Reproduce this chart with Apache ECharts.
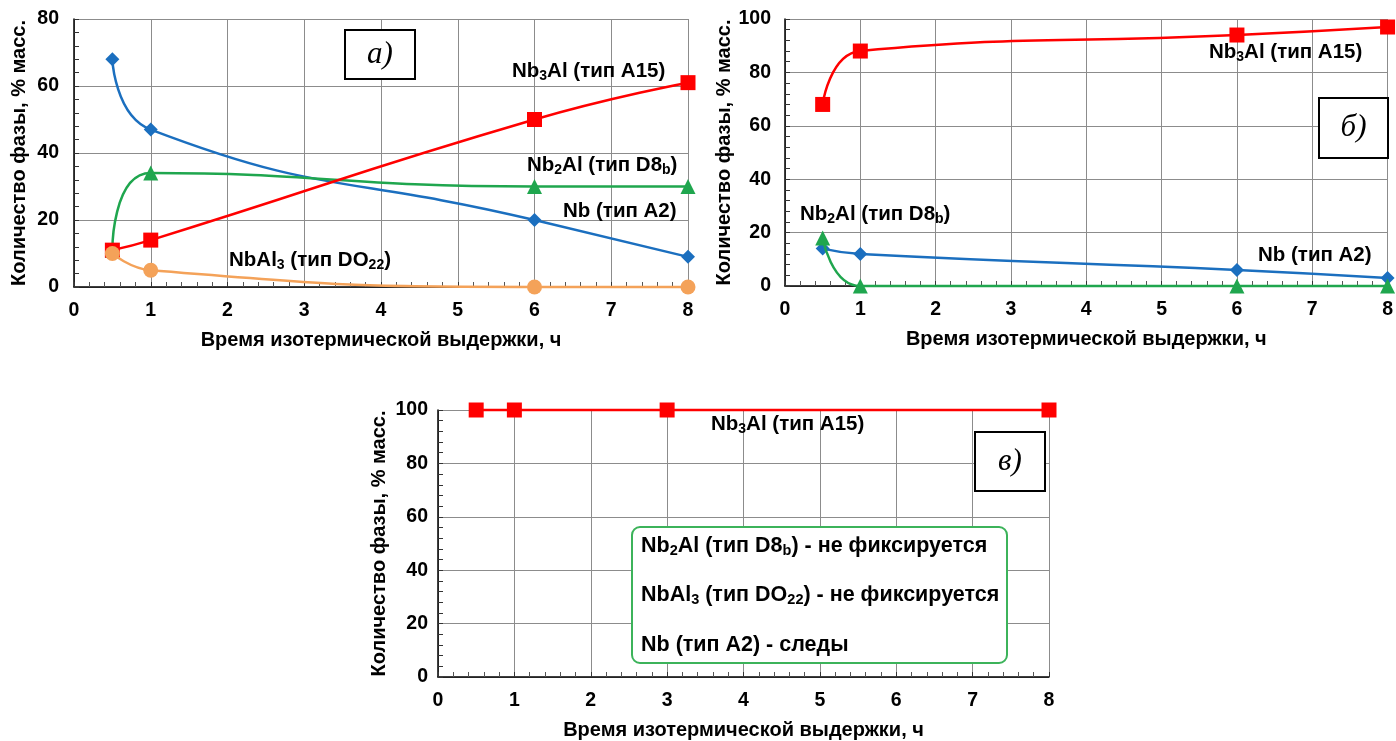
<!DOCTYPE html>
<html>
<head>
<meta charset="utf-8">
<script src="https://cdn.jsdelivr.net/npm/echarts@6/dist/echarts.min.js"></script>
<style>html,body{margin:0;padding:0;background:#fff;}#c{width:1396px;height:741px;}</style>
</head>
<body>
<div id="c"></div>
<script>
// ---- data ----
const timeA = [0.5, 1, 6, 8];
const a_Nb3Al = [11, 14, 50, 61];
const a_Nb2Al = [11, 34, 30, 30];
const a_Nb = [68, 47, 20, 9];
const a_NbAl3 = [10, 5, 0, 0];

const timeB = [0.5, 1, 6, 8];
const b_Nb3Al = [68, 88, 94, 97];
const b_Nb2Al = [18, 0, 0, 0];
const b_Nb = [14, 12, 6, 3];

const timeC = [0.5, 1, 3, 8];
const c_Nb3Al = [100, 100, 100, 100];

const xTitle = 'Время изотермической выдержки, ч';
const yTitle = 'Количество фазы, % масс.';

// ---- styles ----
const FONT = 'Liberation Sans';
const RED = '#ff0000', BLUE = '#1b6fbf', GREEN = '#1fa64e', ORANGE = '#f4a259';

function pairs(xs, ys) { return xs.map((x, i) => [x, ys[i]]); }

function xAxis(gi) {
  return {
    type: 'value', gridIndex: gi, min: 0, max: 8, interval: 1,
    name: xTitle, nameLocation: 'middle', nameGap: 43,
    nameTextStyle: { fontFamily: FONT, fontWeight: 'bold', fontSize: 20, color: '#000' },
    axisLine: { show: true, onZero: false, lineStyle: { color: '#000', width: 1.5 } },
    axisTick: { show: true, inside: true, length: 5, lineStyle: { color: '#333' } },
    minorTick: { show: true, splitNumber: 5, length: 5, lineStyle: { color: '#555' } },
    splitLine: { show: true, lineStyle: { color: '#8c8c8c', width: 1 } },
    axisLabel: { margin: 14, fontFamily: FONT, fontWeight: 'bold', fontSize: 19.5, color: '#000' }
  };
}
function yAxis(gi, max, gap, margin) {
  return {
    type: 'value', gridIndex: gi, min: 0, max: max, interval: 20,
    name: yTitle, nameLocation: 'middle', nameGap: gap, nameRotate: 90,
    nameTextStyle: { fontFamily: FONT, fontWeight: 'bold', fontSize: 20, color: '#000' },
    axisLine: { show: true, onZero: false, lineStyle: { color: '#000', width: 1.5 } },
    axisTick: { show: true, inside: true, length: 5, lineStyle: { color: '#333' } },
    minorTick: { show: true, splitNumber: 5, length: 5, lineStyle: { color: '#333' } },
    splitLine: { show: true, lineStyle: { color: '#8c8c8c', width: 1 } },
    axisLabel: { margin: margin, fontFamily: FONT, fontWeight: 'bold', fontSize: 19.5, color: '#000' }
  };
}
function line(gi, xs, ys, color, symbol, size, z) {
  return {
    type: 'line', xAxisIndex: gi, yAxisIndex: gi, data: pairs(xs, ys),
    smooth: 0.5, symbol: symbol, symbolSize: size, z: z,
    lineStyle: { color: color, width: 2.5 }, itemStyle: { color: color },
    clip: false, animation: false
  };
}

function mkRich(fs, sfs) {
  return {
    n: { fontFamily: FONT, fontWeight: 'bold', fontSize: fs, lineHeight: 24, color: '#000' },
    s: { fontFamily: FONT, fontWeight: 'bold', fontSize: sfs, lineHeight: sfs, verticalAlign: 'bottom', color: '#000' }
  };
}
const richL = mkRich(20.5, 14);
const richB = mkRich(21.5, 14.5);
const T_A15 = '{n|Nb}{s|3}{n|Al (тип A15)}';
const T_D8b = '{n|Nb}{s|2}{n|Al (тип D8}{s|b}{n|)}';
const T_A2 = '{n|Nb (тип A2)}';
const T_DO22 = '{n|NbAl}{s|3}{n| (тип DO}{s|22}{n|)}';

function label(text, left, top, rich) {
  return { type: 'text', left: left, top: top, z: 100, style: { text: text, rich: rich || richL } };
}
function tagBox(x, y, w, h, t) {
  return [
    { type: 'rect', z: 100, shape: { x: x, y: y, width: w, height: h },
      style: { fill: '#fff', stroke: '#000', lineWidth: 2 } },
    { type: 'text', z: 101, style: { x: x + w / 2, y: y + h / 2, text: t,
      font: 'italic 31px "Liberation Serif"', fill: '#000',
      textAlign: 'center', textVerticalAlign: 'middle', align: 'center', verticalAlign: 'middle' } }
  ];
}

const chart = echarts.init(document.getElementById('c'), null, { renderer: 'canvas' });
chart.setOption({
  backgroundColor: '#fff',
  animation: false,
  grid: [
    { left: 74, top: 19, width: 614, height: 268 },
    { left: 785, top: 19, width: 605, height: 267 },
    { left: 438, top: 410, width: 611, height: 268 }
  ],
  xAxis: [xAxis(0), xAxis(1), xAxis(2)],
  yAxis: [yAxis(0, 80, 45, 15), yAxis(1, 100, 44, 14), yAxis(2, 100, 49, 10)],
  series: [
    line(0, timeA, a_Nb, BLUE, 'diamond', 14, 3),
    line(0, timeA, a_Nb2Al, GREEN, 'triangle', 15, 4),
    line(0, timeA, a_Nb3Al, RED, 'rect', 15, 5),
    line(0, timeA, a_NbAl3, ORANGE, 'circle', 15, 6),
    line(1, timeB, b_Nb, BLUE, 'diamond', 14, 3),
    line(1, timeB, b_Nb2Al, GREEN, 'triangle', 15, 4),
    line(1, timeB, b_Nb3Al, RED, 'rect', 15, 5),
    line(2, timeC, c_Nb3Al, RED, 'rect', 15, 5)
  ],
  graphic: [
    label(T_A15, 512, 61),
    label(T_D8b, 527, 155),
    label(T_A2, 563, 201),
    label(T_DO22, 229, 250),
    label(T_A15, 1209, 42),
    label(T_D8b, 800, 204),
    label(T_A2, 1258, 245),
    label(T_A15, 711, 414),
    ...tagBox(345, 30, 70, 49, 'а)'),
    ...tagBox(1319, 98, 69, 60, 'б)'),
    ...tagBox(975, 432, 70, 59, 'в)'),
    { type: 'rect', z: 100, shape: { x: 632, y: 527, width: 375, height: 136, r: 8 },
      style: { fill: '#fff', stroke: '#3cb35a', lineWidth: 2 } },
    label('{n|Nb}{s|2}{n|Al (тип D8}{s|b}{n|) - не фиксируется}', 641, 535, richB),
    label('{n|NbAl}{s|3}{n| (тип DO}{s|22}{n|) - не фиксируется}', 641, 584, richB),
    label('{n|Nb (тип A2) - следы}', 641, 634, richB)
  ]
});
</script>
</body>
</html>
